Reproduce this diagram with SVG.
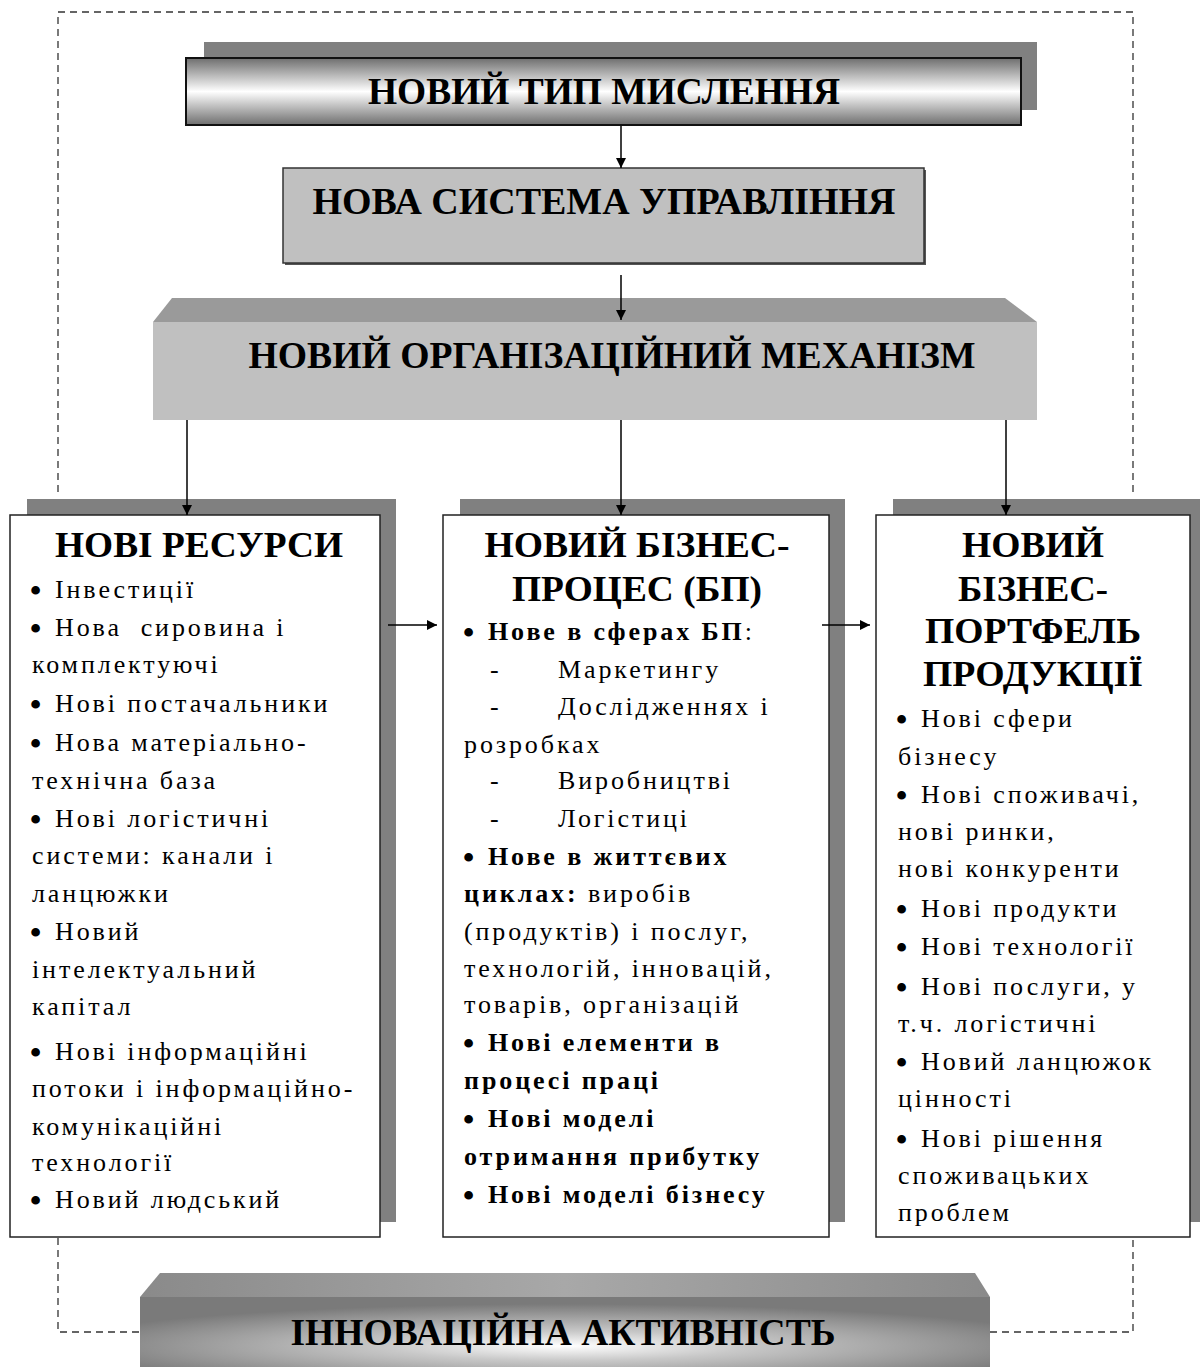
<svg xmlns="http://www.w3.org/2000/svg" width="1200" height="1367" viewBox="0 0 1200 1367">
  <style>
    .head { font-family: "Liberation Serif", "Times New Roman", serif; font-weight: bold; fill: #000; }
    .title { font-family: "Liberation Serif", "Times New Roman", serif; font-weight: bold; font-size: 35px; fill: #000; text-anchor: middle; }
    .body { font-family: "Liberation Serif", "Times New Roman", serif; font-size: 26px; letter-spacing: 2.9px; fill: #000; }
    .b { font-weight: bold; }
    .dot { font-size: 32px; font-weight: bold; letter-spacing: 0; }
    .shadow { fill: #808080; }
    .card { fill: #fff; stroke: #222; stroke-width: 1.5; }
    .frame { fill: none; stroke: #333; stroke-width: 1.3; stroke-dasharray: 7 5; }
    .link { fill: none; stroke: #000; stroke-width: 1.5; }
  </style>
  <defs>
    <marker id="arrow" viewBox="0 0 10 10" refX="10" refY="5" markerWidth="10" markerHeight="10" markerUnits="userSpaceOnUse" orient="auto">
      <path d="M0,0 L10,5 L0,10 Z" fill="#000"/>
    </marker>
    <linearGradient id="tube" x1="0" y1="0" x2="0" y2="1">
      <stop offset="0" stop-color="#6e6e6e"/>
      <stop offset="0.5" stop-color="#ffffff"/>
      <stop offset="1" stop-color="#6e6e6e"/>
    </linearGradient>
    <radialGradient id="glow" cx="0.5" cy="0.7" r="0.6" fx="0.5" fy="0.7">
      <stop offset="0" stop-color="#ffffff"/>
      <stop offset="0.35" stop-color="#c8c8c8"/>
      <stop offset="1" stop-color="#7a7a7a"/>
    </radialGradient>
    <linearGradient id="bevel" x1="0" y1="0" x2="1" y2="0">
      <stop offset="0" stop-color="#8a8a8a"/>
      <stop offset="0.5" stop-color="#a8a8a8"/>
      <stop offset="1" stop-color="#8a8a8a"/>
    </linearGradient>
  </defs>

  <rect width="1200" height="1367" fill="#fff"/>

  <!-- dashed enclosing frame -->
  <g id="frame">
    <path class="frame" d="M58,492 V12 H1133 V492"/>
    <path class="frame" d="M58,1238 V1332 H140"/>
    <path class="frame" d="M990,1332 H1133 V1238"/>
  </g>

  <!-- new type of thinking -->
  <g id="thinking">
    <rect class="shadow" x="204" y="42" width="833" height="68"/>
    <rect x="186" y="58" width="835" height="67" fill="url(#tube)" stroke="#111" stroke-width="2"/>
    <text class="head" x="604" y="104" font-size="38" text-anchor="middle" textLength="472" lengthAdjust="spacingAndGlyphs">НОВИЙ ТИП МИСЛЕННЯ</text>
  </g>

  <!-- new management system -->
  <g id="management">
    <rect x="285" y="170" width="641" height="95" fill="#555"/>
    <rect x="283" y="168" width="641" height="95" fill="#c0c0c0" stroke="#333" stroke-width="1.5"/>
    <text class="head" x="604" y="214" font-size="38" text-anchor="middle" textLength="583" lengthAdjust="spacingAndGlyphs">НОВА СИСТЕМА УПРАВЛІННЯ</text>
  </g>

  <!-- new organisational mechanism -->
  <g id="mechanism">
    <polygon points="172,298 1005,298 1037,322 153,322" fill="#9a9a9a"/>
    <rect x="153" y="322" width="884" height="98" fill="#c0c0c0"/>
    <text class="head" x="612" y="368" font-size="38" text-anchor="middle" textLength="727" lengthAdjust="spacingAndGlyphs">НОВИЙ ОРГАНІЗАЦІЙНИЙ МЕХАНІЗМ</text>
  </g>

  <!-- new resources -->
  <g id="resources">
    <rect class="shadow" x="27" y="499" width="369" height="723"/>
    <rect class="card" x="10" y="515" width="370" height="722"/>
    <text class="title" x="199" y="557" textLength="288" lengthAdjust="spacingAndGlyphs">НОВІ РЕСУРСИ</text>
    <text class="body">
      <tspan x="30" y="601" class="dot">•</tspan><tspan x="55" y="598">Інвестиції</tspan>
      <tspan x="30" y="639" class="dot">•</tspan><tspan x="55" y="636">Нова&#160; сировина і</tspan>
      <tspan x="32" y="673">комплектуючі</tspan>
      <tspan x="30" y="715" class="dot">•</tspan><tspan x="55" y="712">Нові постачальники</tspan>
      <tspan x="30" y="754" class="dot">•</tspan><tspan x="55" y="751">Нова матеріально-</tspan>
      <tspan x="32" y="789">технічна база</tspan>
      <tspan x="30" y="830" class="dot">•</tspan><tspan x="55" y="827">Нові логістичні</tspan>
      <tspan x="32" y="864">системи: канали і</tspan>
      <tspan x="32" y="902">ланцюжки</tspan>
      <tspan x="30" y="943" class="dot">•</tspan><tspan x="55" y="940">Новий</tspan>
      <tspan x="32" y="978">інтелектуальний</tspan>
      <tspan x="32" y="1015">капітал</tspan>
      <tspan x="30" y="1063" class="dot">•</tspan><tspan x="55" y="1060">Нові інформаційні</tspan>
      <tspan x="32" y="1097">потоки і інформаційно-</tspan>
      <tspan x="32" y="1135">комунікаційні</tspan>
      <tspan x="32" y="1171">технології</tspan>
      <tspan x="30" y="1211" class="dot">•</tspan><tspan x="55" y="1208">Новий людський</tspan>
    </text>
  </g>

  <!-- new business process -->
  <g id="process">
    <rect class="shadow" x="460" y="499" width="385" height="723"/>
    <rect class="card" x="443" y="515" width="386" height="722"/>
    <text class="title" x="637" y="557" textLength="305" lengthAdjust="spacingAndGlyphs">НОВИЙ БІЗНЕС-</text>
    <text class="title" x="637" y="601" textLength="250" lengthAdjust="spacingAndGlyphs">ПРОЦЕС (БП)</text>
    <text class="body">
      <tspan x="463" y="643" class="dot">•</tspan><tspan x="488" y="640" class="b">Нове в сферах БП</tspan><tspan>:</tspan>
      <tspan x="490" y="678">-</tspan><tspan x="558" y="678">Маркетингу</tspan>
      <tspan x="490" y="715">-</tspan><tspan x="558" y="715">Дослідженнях і</tspan>
      <tspan x="464" y="753">розробках</tspan>
      <tspan x="490" y="789">-</tspan><tspan x="558" y="789">Виробництві</tspan>
      <tspan x="490" y="827">-</tspan><tspan x="558" y="827">Логістиці</tspan>
      <tspan x="463" y="868" class="dot">•</tspan><tspan x="488" y="865" class="b">Нове в життєвих</tspan>
      <tspan x="464" y="902" class="b">циклах:</tspan><tspan> виробів</tspan>
      <tspan x="464" y="940">(продуктів) і послуг,</tspan>
      <tspan x="464" y="977">технологій, інновацій,</tspan>
      <tspan x="464" y="1013">товарів, організацій</tspan>
      <tspan x="463" y="1054" class="dot">•</tspan><tspan x="488" y="1051" class="b">Нові елементи в</tspan>
      <tspan x="464" y="1089" class="b">процесі праці</tspan>
      <tspan x="463" y="1130" class="dot">•</tspan><tspan x="488" y="1127" class="b">Нові моделі</tspan>
      <tspan x="464" y="1165" class="b">отримання прибутку</tspan>
      <tspan x="463" y="1206" class="dot">•</tspan><tspan x="488" y="1203" class="b">Нові моделі бізнесу</tspan>
    </text>
  </g>

  <!-- new business portfolio -->
  <g id="portfolio">
    <rect class="shadow" x="893" y="499" width="307" height="723"/>
    <rect class="card" x="876" y="515" width="314" height="722"/>
    <text class="title" x="1033" y="557" textLength="142" lengthAdjust="spacingAndGlyphs">НОВИЙ</text>
    <text class="title" x="1033" y="601" textLength="150" lengthAdjust="spacingAndGlyphs">БІЗНЕС-</text>
    <text class="title" x="1033" y="643" textLength="216" lengthAdjust="spacingAndGlyphs">ПОРТФЕЛЬ</text>
    <text class="title" x="1033" y="686" textLength="220" lengthAdjust="spacingAndGlyphs">ПРОДУКЦІЇ</text>
    <text class="body">
      <tspan x="896" y="730" class="dot">•</tspan><tspan x="921" y="727">Нові сфери</tspan>
      <tspan x="898" y="765">бізнесу</tspan>
      <tspan x="896" y="806" class="dot">•</tspan><tspan x="921" y="803">Нові споживачі,</tspan>
      <tspan x="898" y="840">нові ринки,</tspan>
      <tspan x="898" y="877">нові конкуренти</tspan>
      <tspan x="896" y="920" class="dot">•</tspan><tspan x="921" y="917">Нові продукти</tspan>
      <tspan x="896" y="958" class="dot">•</tspan><tspan x="921" y="955">Нові технології</tspan>
      <tspan x="896" y="998" class="dot">•</tspan><tspan x="921" y="995">Нові послуги, у</tspan>
      <tspan x="898" y="1032">т.ч. логістичні</tspan>
      <tspan x="896" y="1073" class="dot">•</tspan><tspan x="921" y="1070">Новий ланцюжок</tspan>
      <tspan x="898" y="1107">цінності</tspan>
      <tspan x="896" y="1150" class="dot">•</tspan><tspan x="921" y="1147">Нові рішення</tspan>
      <tspan x="898" y="1184">споживацьких</tspan>
      <tspan x="898" y="1221">проблем</tspan>
    </text>
  </g>

  <!-- innovation activity -->
  <g id="activity">
    <polygon points="160,1273 975,1273 990,1297 140,1297" fill="url(#bevel)"/>
    <rect x="140" y="1297" width="850" height="70" fill="url(#glow)"/>
    <text class="head" x="563" y="1345" font-size="38" text-anchor="middle" textLength="545" lengthAdjust="spacingAndGlyphs">ІННОВАЦІЙНА АКТИВНІСТЬ</text>
  </g>

  <!-- connectors -->
  <g id="connectors">
    <line class="link" x1="621" y1="126" x2="621" y2="168" marker-end="url(#arrow)"/>
    <line class="link" x1="621" y1="275" x2="621" y2="320" marker-end="url(#arrow)"/>
    <line class="link" x1="187" y1="420" x2="187" y2="515" marker-end="url(#arrow)"/>
    <line class="link" x1="621" y1="420" x2="621" y2="515" marker-end="url(#arrow)"/>
    <line class="link" x1="1006" y1="420" x2="1006" y2="515" marker-end="url(#arrow)"/>
    <line class="link" x1="388" y1="625" x2="437" y2="625" marker-end="url(#arrow)"/>
    <line class="link" x1="822" y1="625" x2="870" y2="625" marker-end="url(#arrow)"/>
  </g>
</svg>
